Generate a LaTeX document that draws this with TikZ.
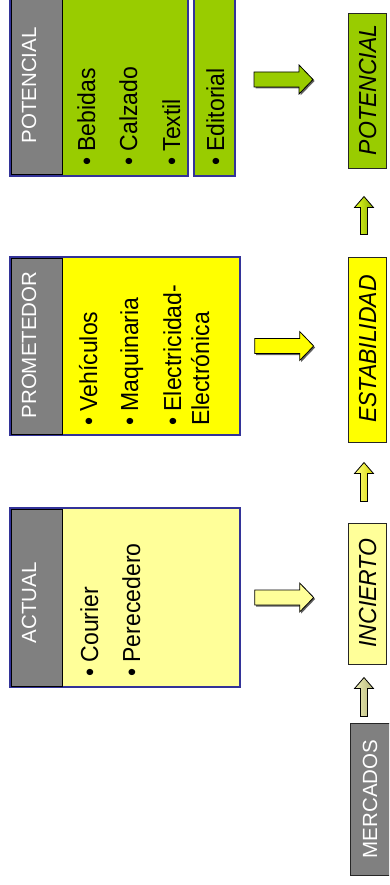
\documentclass[tikz,border=0pt]{standalone}
\usepackage{fontspec}
\setmainfont{Liberation Sans}
\usepackage{graphicx}
\usetikzlibrary{calc}
\definecolor{hgray}{HTML}{808080}
\definecolor{bblue}{HTML}{333399}
\definecolor{lyel}{HTML}{FFFF99}
\definecolor{yel}{HTML}{FFFF00}
\definecolor{grn}{HTML}{99CC00}
\definecolor{shd}{HTML}{606060}
\definecolor{khakiA}{HTML}{EEEEB8}
\definecolor{khakiB}{HTML}{B4B478}
\definecolor{yelA}{HTML}{FFFF88}
\definecolor{yelB}{HTML}{D8D800}
\definecolor{grnA}{HTML}{E4FF20}
\definecolor{grnB}{HTML}{88AA00}
\newcommand\talltxt[1]{\scalebox{1}[1.07]{#1}}
\begin{document}
\begin{tikzpicture}[x=1pt,y=-1pt,
  bodybox/.style={draw=bblue,line width=1.3pt,inner sep=0pt},
  hdrbox/.style={draw=black,line width=1pt,fill=hgray,inner sep=0pt},
  hdrtxt/.style={text=white,font=\fontsize{20.5pt}{24pt}\selectfont,rotate=90,anchor=base,inner sep=0pt},
  itemtxt/.style={font=\fontsize{23pt}{28pt}\selectfont,rotate=90,anchor=base west,inner sep=0pt},
  lblbox/.style={draw=black!85,line width=0.9pt,inner sep=0pt},
  lbltxt/.style={font=\fontsize{23pt}{28pt}\selectfont\itshape,rotate=90,anchor=base,inner sep=0pt},
  pics/bigarr/.style={code={
    \fill[shd] (1.5,1.5) ++(0,-7.5) -- ++(45,0) -- ++(0,-7) -- ++(14,14.5) -- ++(-14,14.5) -- ++(0,-7) -- ++(-45,0) -- cycle;
    \filldraw[fill=#1,draw=black,line width=0.8pt,line join=miter] (0,0) ++(0,-7.5) -- ++(45,0) -- ++(0,-7) -- ++(14,14.5) -- ++(-14,14.5) -- ++(0,-7) -- ++(-45,0) -- cycle;
  }},
  pics/smallarr/.style n args={3}{code={
    \shade[left color=#2,right color=#3,draw=black,line width=0.8pt]
      (-3.5,0) -- (-3.5,-#1+11) -- (-9.5,-#1+11) -- (0,-#1) -- (9.5,-#1+11) -- (3.5,-#1+11) -- (3.5,0) -- cycle;
  }}
]
\useasboundingbox (0,0) rectangle (389,885);
\clip (0,0) rectangle (389,885);

% ---- ACTUAL ----
\node[bodybox,fill=lyel,minimum width=230pt,minimum height=179pt] (actB) at (125,597.5) {};
\node[hdrbox,minimum width=51pt,minimum height=177pt] (actH) at (36.5,597.5) {};
\node[hdrtxt] (actT) at (36,603) {ACTUAL};
\node[itemtxt] (act1) at (98,677) {\talltxt{• Courier}};
\node[itemtxt] (act2) at (140,677) {\talltxt{• Perecedero}};

% ---- PROMETEDOR ----
\node[bodybox,fill=yel,minimum width=230pt,minimum height=178pt] (proB) at (125,346) {};
\node[hdrbox,minimum width=51pt,minimum height=176pt] (proH) at (36.5,346) {};
\node[hdrtxt] (proT) at (36,345) {PROMETEDOR};
\node[itemtxt] (pro1) at (97,426) {\talltxt{• Vehículos}};
\node[itemtxt] (pro2) at (138,426) {\talltxt{• Maquinaria}};
\node[itemtxt] (pro3) at (181,426) {\talltxt{• Electricidad-}};
\node[itemtxt] (pro4) at (209,426) {\talltxt{Electrónica}};

% ---- POTENCIAL ----
\node[bodybox,fill=grn,minimum width=178pt,minimum height=182pt] (potB) at (99,85) {};
\node[hdrbox,minimum width=51pt,minimum height=180pt] (potH) at (36.5,85) {};
\node[hdrtxt] (potT) at (36,85.5) {POTENCIAL};
\node[itemtxt] (pot1) at (95,166) {\talltxt{• Bebidas}};
\node[itemtxt] (pot2) at (137,166) {\talltxt{• Calzado}};
\node[itemtxt] (pot3) at (180,166) {\talltxt{• Textil}};
\node[bodybox,fill=grn,minimum width=41pt,minimum height=182pt] (edB) at (214.5,85) {};
\node[itemtxt] (ed1) at (224,166) {\talltxt{• Editorial}};

% ---- label boxes ----
\node[lblbox,fill=hgray,minimum width=45pt,minimum height=152pt] (merc) at (372.5,799) {};
\node[hdrtxt] (mercT) at (377,799) {MERCADOS};
\node[lblbox,fill=lyel,minimum width=38pt,minimum height=141pt] (inc) at (367,593.5) {};
\node[lbltxt] (incT) at (376,593) {\talltxt{INCIERTO}};
\node[lblbox,fill=yel,minimum width=38pt,minimum height=185pt] (est) at (367,349.5) {};
\node[lbltxt] (estT) at (376,349) {\talltxt{ESTABILIDAD}};
\node[lblbox,fill=grn,minimum width=38pt,minimum height=155pt] (pot) at (367,90.5) {};
\node[lbltxt] (potL) at (376,90) {\talltxt{POTENCIAL}};

% ---- big arrows ----
\pic (arrA) at ($(actB.east)+(14,0)$) {bigarr=lyel};
\pic (arrP) at ($(proB.east)+(14,0)$) {bigarr=yel};
\pic (arrO) at (254,79.5) {bigarr=grn};

% ---- small arrows ----
\pic (sa1) at ($(merc.north)+(-8.5,-6)$) {smallarr={39}{khakiA}{khakiB}};
\pic (sa2) at ($(inc.north)+(-3,-21)$) {smallarr={39}{yelA}{yelB}};
\pic (sa3) at ($(est.north)+(-3,-22)$) {smallarr={38}{grnA}{grnB}};
\end{tikzpicture}
\end{document}
